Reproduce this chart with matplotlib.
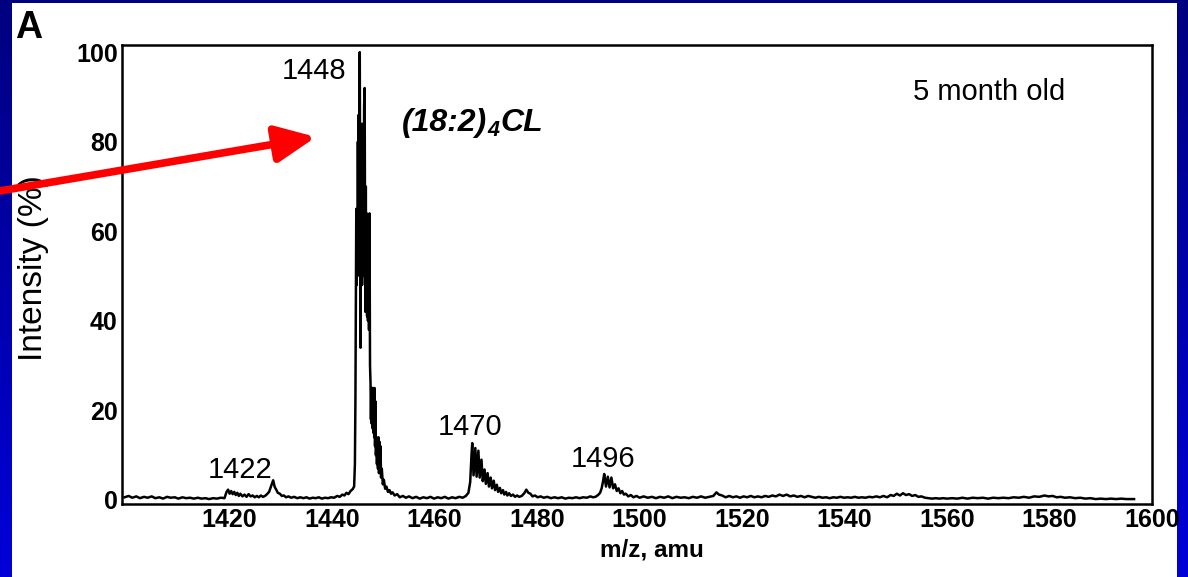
import numpy as np
import matplotlib
matplotlib.use("Agg")
import matplotlib.pyplot as plt
from matplotlib.patches import Rectangle, FancyArrowPatch

plt.rcParams["font.family"] = ["Liberation Sans", "DejaVu Sans"]

# spectrum, (m/z, intensity %) per region
seg_left = [(1399.5, 0.6), (1400.3, 0.9), (1401.0, 0.5), (1401.8, 0.8), (1402.5, 0.4),
            (1403.3, 0.7), (1404.0, 0.5), (1404.8, 0.8), (1405.5, 0.4), (1406.3, 0.6),
            (1407.0, 0.3), (1407.8, 0.7), (1408.5, 0.5), (1409.3, 0.6), (1410.0, 0.3),
            (1410.8, 0.6), (1411.5, 0.4), (1412.3, 0.5), (1413.0, 0.3), (1413.8, 0.5),
            (1414.5, 0.3), (1415.3, 0.4), (1416.0, 0.2), (1416.8, 0.4), (1417.5, 0.3),
            (1418.3, 0.5), (1419.0, 0.4)]
seg_1422 = [(1419.4, 1.8), (1419.7, 2.3), (1420.0, 1.4), (1420.3, 2.0), (1420.6, 1.3),
            (1420.9, 1.8), (1421.2, 1.1), (1421.5, 1.6), (1421.8, 0.9), (1422.1, 1.4),
            (1422.5, 0.8), (1422.9, 1.2), (1423.3, 0.7), (1423.7, 1.3), (1424.1, 0.8),
            (1424.5, 1.0), (1424.9, 0.6), (1425.3, 0.9), (1425.7, 0.6), (1426.1, 1.0),
            (1426.5, 0.7), (1426.9, 0.9), (1427.3, 1.3), (1427.7, 1.8), (1428.0, 2.8),
            (1428.3, 3.8), (1428.5, 4.4), (1428.8, 2.9), (1429.1, 2.3), (1429.4, 1.6),
            (1429.8, 1.4), (1430.2, 0.9), (1430.6, 1.0), (1431.0, 0.6), (1431.5, 0.8),
            (1432.0, 0.5), (1432.6, 0.7), (1433.2, 0.4), (1433.8, 0.6), (1434.4, 0.4),
            (1435.0, 0.6), (1435.6, 0.3), (1436.2, 0.5), (1436.8, 0.4), (1437.4, 0.6),
            (1438.0, 0.3), (1438.6, 0.5), (1439.2, 0.4), (1439.8, 0.6), (1440.4, 0.5),
            (1441.0, 0.9), (1441.5, 0.7), (1442.0, 1.2), (1442.4, 1.0), (1442.8, 1.6),
            (1443.2, 1.3), (1443.6, 2.0), (1444.0, 2.4)]
seg_1448 = [(1444.3, 3.0), (1444.45, 8.0), (1444.55, 22.0), (1444.65, 45.0), (1444.72, 65.0),
            (1444.8, 48.0), (1444.88, 64.0), (1444.95, 50.0), (1445.03, 80.0), (1445.1, 58.0),
            (1445.18, 86.0), (1445.25, 62.0), (1445.33, 96.0), (1445.4, 100.0), (1445.48, 60.0),
            (1445.55, 34.0), (1445.63, 72.0), (1445.7, 52.0), (1445.78, 84.0), (1445.85, 48.0),
            (1445.93, 76.0), (1446.0, 50.0), (1446.08, 84.0), (1446.15, 55.0), (1446.25, 88.0),
            (1446.35, 92.0), (1446.43, 60.0), (1446.5, 42.0), (1446.58, 70.0), (1446.66, 46.0),
            (1446.75, 64.0), (1446.83, 41.0), (1446.92, 58.0), (1447.0, 40.0), (1447.1, 56.0),
            (1447.2, 38.0), (1447.3, 64.0), (1447.4, 30.0), (1447.5, 26.0), (1447.58, 18.0),
            (1447.66, 25.0), (1447.74, 17.0), (1447.82, 25.0), (1447.9, 16.0), (1447.98, 25.0),
            (1448.06, 15.0), (1448.14, 24.0), (1448.22, 14.0), (1448.3, 25.0), (1448.38, 12.0),
            (1448.46, 22.0), (1448.55, 10.0), (1448.65, 14.0), (1448.75, 8.0), (1448.85, 13.0),
            (1448.95, 7.0), (1449.05, 14.0), (1449.15, 6.0), (1449.25, 13.0), (1449.35, 6.0),
            (1449.45, 12.0), (1449.55, 5.0), (1449.7, 7.0), (1449.9, 3.5), (1450.1, 4.5),
            (1450.35, 2.5), (1450.6, 3.0), (1450.9, 1.8), (1451.2, 2.2), (1451.5, 1.4),
            (1451.8, 1.7), (1452.2, 1.0), (1452.7, 1.3), (1453.2, 0.6), (1453.8, 0.9)]
seg_mid = [(1454.4, 0.5), (1455.0, 0.8), (1455.7, 0.4), (1456.4, 0.7), (1457.1, 0.3),
           (1457.8, 0.6), (1458.5, 0.4), (1459.2, 0.7), (1459.9, 0.3), (1460.6, 0.6),
           (1461.3, 0.4), (1462.0, 0.7), (1462.7, 0.3), (1463.4, 0.6), (1464.1, 0.4),
           (1464.8, 0.7), (1465.5, 0.5), (1466.1, 0.9), (1466.6, 1.6)]
seg_1470 = [(1466.95, 4.0), (1467.2, 10.0), (1467.35, 12.7), (1467.6, 5.5), (1467.95, 11.6),
            (1468.2, 5.2), (1468.55, 11.0), (1468.8, 5.0), (1469.15, 9.0), (1469.4, 4.2),
            (1469.75, 6.8), (1470.0, 3.6), (1470.35, 6.0), (1470.6, 3.0), (1470.95, 5.0),
            (1471.2, 2.6), (1471.55, 4.3), (1471.8, 2.2), (1472.15, 3.4), (1472.4, 1.8),
            (1472.75, 2.7), (1473.0, 1.5), (1473.35, 2.2), (1473.6, 1.2), (1473.95, 1.8),
            (1474.2, 1.0), (1474.55, 1.5), (1474.9, 0.9), (1475.3, 1.2), (1475.7, 0.7),
            (1476.1, 1.0), (1476.5, 0.7), (1477.0, 0.9), (1477.5, 1.5), (1477.9, 2.3),
            (1478.3, 1.6), (1478.7, 1.4), (1479.1, 0.8), (1479.6, 1.0), (1480.1, 0.6),
            (1480.7, 0.8), (1481.3, 0.5), (1482.0, 0.7), (1482.7, 0.4), (1483.4, 0.6),
            (1484.1, 0.4), (1484.8, 0.6), (1485.5, 0.3), (1486.2, 0.5), (1486.9, 0.4),
            (1487.6, 0.6), (1488.3, 0.4), (1489.0, 0.6), (1489.7, 0.5), (1490.4, 0.8),
            (1490.9, 0.6)]
seg_1496 = [(1491.4, 0.7), (1491.9, 1.1), (1492.3, 1.6), (1492.6, 2.6), (1492.85, 4.0),
            (1493.1, 5.8), (1493.45, 3.0), (1493.8, 5.2), (1494.15, 2.8), (1494.5, 5.0),
            (1494.85, 2.6), (1495.2, 3.5), (1495.55, 2.0), (1495.9, 2.6), (1496.25, 1.5),
            (1496.6, 2.0), (1496.95, 1.2), (1497.3, 1.4), (1497.8, 0.8), (1498.3, 1.1),
            (1498.8, 0.6), (1499.4, 0.9)]
seg_right = [(1500.0, 0.5), (1500.8, 0.8), (1501.6, 0.5), (1502.4, 0.7), (1503.2, 0.4),
             (1504.0, 0.7), (1504.8, 0.5), (1505.6, 0.8), (1506.4, 0.4), (1507.2, 0.7),
             (1508.0, 0.5), (1508.8, 0.6), (1509.6, 0.4), (1510.4, 0.7), (1511.2, 0.5),
             (1512.0, 0.8), (1512.8, 0.5), (1513.6, 0.7), (1514.4, 0.9), (1515.0, 1.7),
             (1515.5, 1.2), (1516.1, 1.0), (1516.8, 0.6), (1517.5, 0.9), (1518.2, 0.6),
             (1518.9, 0.8), (1519.6, 0.5), (1520.3, 0.8), (1521.0, 0.6), (1521.7, 0.9),
             (1522.4, 0.6), (1523.1, 0.8), (1523.8, 0.6), (1524.5, 0.9), (1525.2, 0.7),
             (1525.9, 1.0), (1526.6, 0.8), (1527.3, 1.2), (1528.0, 0.9), (1528.7, 1.2),
             (1529.4, 0.8), (1530.1, 1.0), (1530.8, 0.7), (1531.5, 0.9), (1532.2, 0.6),
             (1532.9, 0.9), (1533.6, 0.7), (1534.3, 0.5), (1535.0, 0.7), (1535.7, 0.5),
             (1536.4, 0.6), (1537.1, 0.4), (1537.8, 0.6), (1538.5, 0.5), (1539.2, 0.7),
             (1539.9, 0.5), (1540.6, 0.6), (1541.3, 0.5), (1542.0, 0.7), (1542.7, 0.5),
             (1543.4, 0.6), (1544.1, 0.5), (1544.8, 0.7), (1545.5, 0.6), (1546.2, 0.8),
             (1546.9, 0.6), (1547.6, 0.9), (1548.3, 0.6), (1549.0, 1.1), (1549.6, 0.9),
             (1550.2, 1.4), (1550.8, 1.0), (1551.4, 1.5), (1552.0, 1.1), (1552.6, 1.3),
             (1553.2, 0.9), (1553.8, 1.1), (1554.4, 0.7), (1555.0, 0.8), (1555.7, 0.5),
             (1556.4, 0.4), (1557.1, 0.3), (1557.8, 0.4), (1558.5, 0.3), (1559.2, 0.4),
             (1560.0, 0.3), (1561.0, 0.4), (1562.0, 0.3), (1563.0, 0.5), (1564.0, 0.3),
             (1565.0, 0.5), (1566.0, 0.4), (1567.0, 0.5), (1568.0, 0.3), (1569.0, 0.5),
             (1570.0, 0.4), (1571.0, 0.5), (1572.0, 0.4), (1573.0, 0.6), (1574.0, 0.5),
             (1575.0, 0.7), (1576.0, 0.5), (1577.0, 0.8), (1578.0, 0.7), (1579.0, 1.0),
             (1579.8, 0.8), (1580.6, 0.9), (1581.4, 0.6), (1582.2, 0.7), (1583.0, 0.5),
             (1584.0, 0.6), (1585.0, 0.4), (1586.0, 0.5), (1587.0, 0.3), (1588.0, 0.4),
             (1589.0, 0.2), (1590.0, 0.3), (1591.0, 0.2), (1592.0, 0.3), (1593.0, 0.2),
             (1594.0, 0.3), (1595.0, 0.2), (1596.5, 0.2)]

peak_labels = ["1422", "1448", "1470", "1496"]
peak_label_mz = [1422.1, 1436.5, 1467.0, 1492.9]
peak_label_y = [4.9, 94.0, 14.5, 7.4]

x_ticks = [1420, 1440, 1460, 1480, 1500, 1520, 1540, 1560, 1580, 1600]
y_ticks = [0, 20, 40, 60, 80, 100]

spectrum = seg_left + seg_1422 + seg_1448 + seg_mid + seg_1470 + seg_1496 + seg_right
mz = np.array([p[0] for p in spectrum])
intensity = np.array([p[1] for p in spectrum])

W, H = 1188, 577
fig = plt.figure(figsize=(W / 100, H / 100), dpi=100)

# blue slide background + white panel
bg = fig.add_axes([0, 0, 1, 1], zorder=-5)
grad = np.linspace(0, 1, 256).reshape(-1, 1)
bg.imshow(np.dstack([np.zeros_like(grad), np.zeros_like(grad), 0.50 + 0.35 * grad]),
          aspect="auto", extent=[0, 1, 0, 1], origin="upper")
bg.add_patch(Rectangle((12 / W, 0), (1177 - 12) / W, 1 - 3 / H, facecolor="white",
                       edgecolor="none"))
bg.set_xlim(0, 1)
bg.set_ylim(0, 1)
bg.axis("off")

ax = fig.add_axes([122 / W, 1 - 504 / H, (1152 - 122) / W, (504 - 45) / H])
ax.plot(mz, intensity, color="black", lw=1.8)
ax.set_xlim(1399, 1600)
ax.set_ylim(-0.9, 101.6)
ax.set_xticks(x_ticks)
ax.set_yticks(y_ticks)
ax.tick_params(length=0, labelsize=18, pad=3)
for lab in ax.get_xticklabels() + ax.get_yticklabels():
    lab.set_fontweight("bold")
for s in ax.spines.values():
    s.set_linewidth(1.8)

for t, x, y in zip(peak_labels, peak_label_mz, peak_label_y):
    ax.text(x, y, t, ha="center", va="baseline", fontsize=21)

# (18:2)4CL with subscript 4, bold italic
cl_style = dict(fontsize=23, fontweight="bold", fontstyle="italic")
t1 = ax.text(1453.6, 82.4, "(18:2)", ha="left", va="baseline", **cl_style)
t2 = ax.annotate("4", xy=(1, 0), xycoords=t1, xytext=(0.5, -2), textcoords="offset points",
                 ha="left", va="bottom", fontsize=15.5, fontweight="bold", fontstyle="italic")
ax.annotate("CL", xy=(1, 0), xycoords=(t2, t1), xytext=(0.5, 0), textcoords="offset points",
            ha="left", va="bottom", **cl_style)

ax.text(0.8325, 1 - 100 / H, "5 month old", transform=fig.transFigure,
        ha="center", va="baseline", fontsize=21)

fig.text(652 / W, 1 - 550 / H, "m/z, amu", ha="center", va="center",
         fontsize=17.5, fontweight="bold")
fig.text(34 / W, 1 - 268 / H, "Intensity (%)", ha="center", va="center",
         rotation=90, fontsize=24)
fig.text(29 / W, 1 - 28 / H, "A", ha="center", va="center", fontsize=27,
         fontweight="bold")

arrow = FancyArrowPatch((-12 / W, 1 - 193 / H), (316 / W, 1 - 137 / H),
                        transform=fig.transFigure, arrowstyle="-|>,head_length=1.2,head_width=0.55",
                        mutation_scale=20, color="#ff0000", lw=5.5, shrinkA=0, shrinkB=0,
                        zorder=10)
fig.add_artist(arrow)

fig.savefig("out.png", dpi=100)
